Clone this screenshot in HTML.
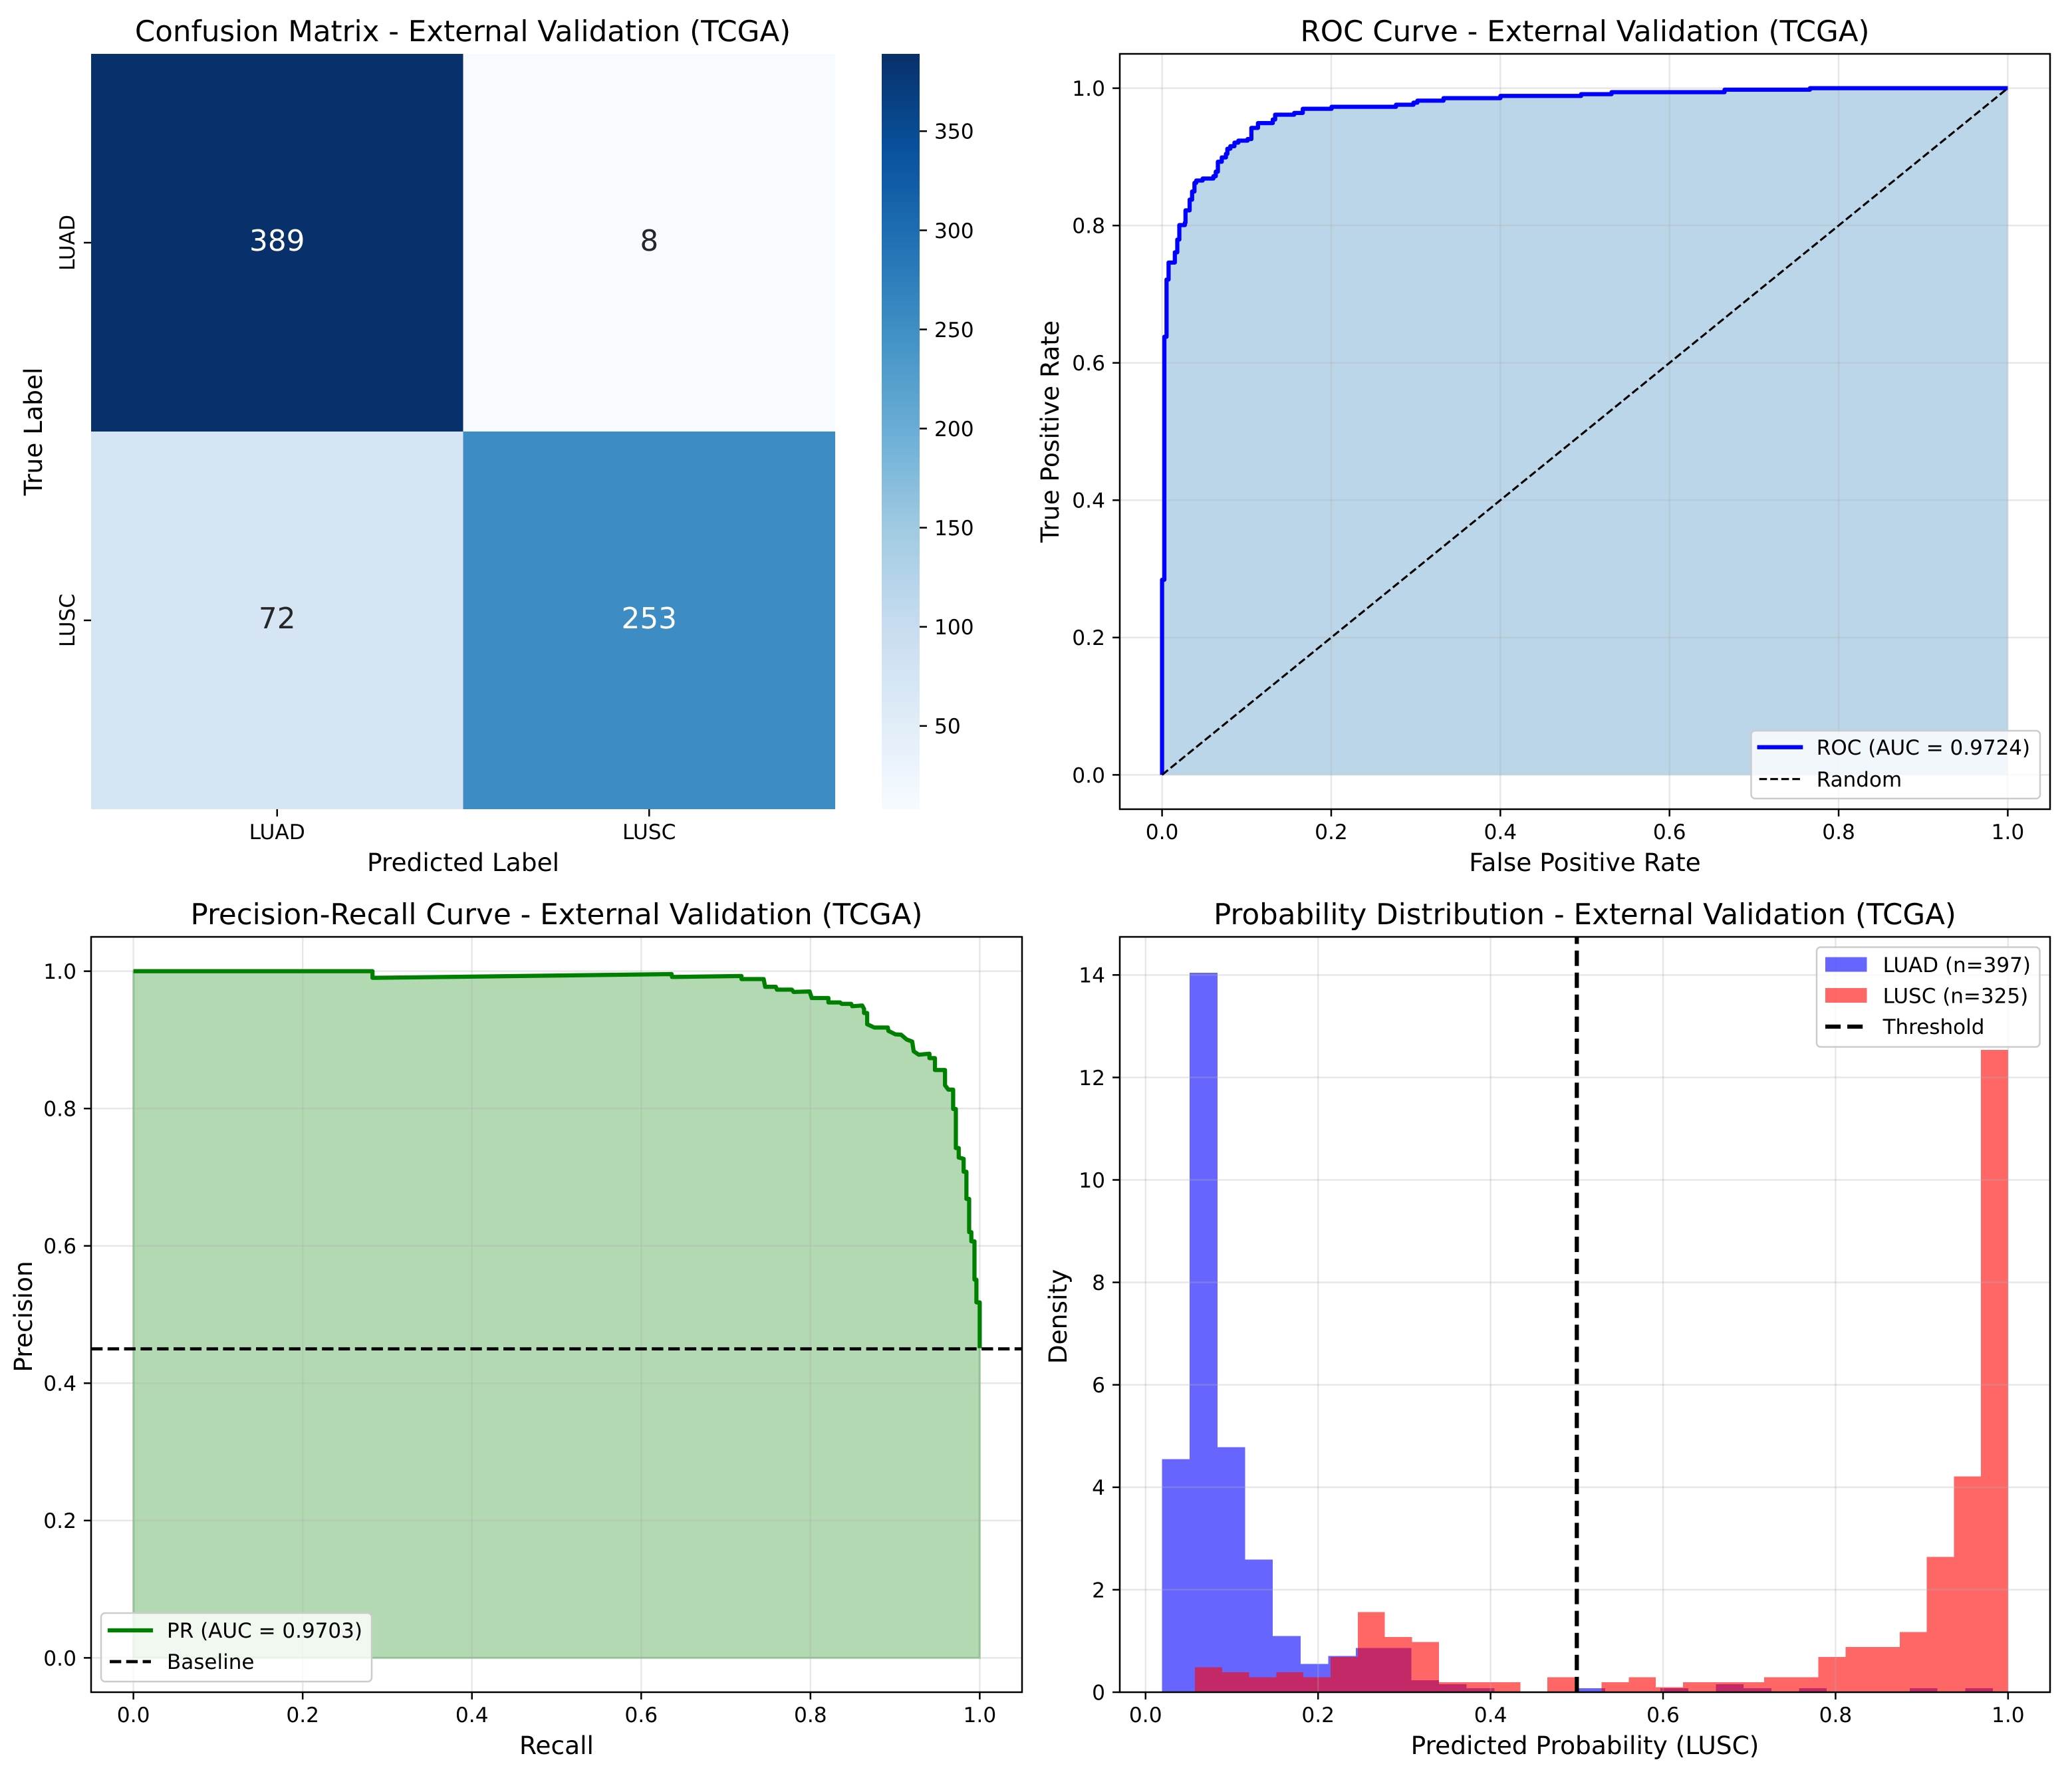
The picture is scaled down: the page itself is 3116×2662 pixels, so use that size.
<!DOCTYPE html>
<html lang="en">
<head>
<meta charset="utf-8">
<title>External Validation (TCGA)</title>
<style>
html,body{margin:0;padding:0;background:#fff;}
svg{display:block;font-family:"DejaVu Sans","Liberation Sans",sans-serif;text-rendering:geometricPrecision;}
.title{font-size:43.55px;text-anchor:middle;}
.label{font-size:37.5px;text-anchor:middle;}
.legend{font-size:31px;}
</style>
</head>
<body>
<svg id="fig" xmlns="http://www.w3.org/2000/svg" width="3116" height="2662" viewBox="0 0 3116 2662">
  <defs>
    <linearGradient id="blues-gradient" x1="0" y1="1" x2="0" y2="0"></linearGradient>
    <clipPath id="clip-roc"><rect x="1684" y="81" width="1399" height="1136"/></clipPath>
    <clipPath id="clip-pr"><rect x="137" y="1409" width="1400" height="1136"/></clipPath>
    <clipPath id="clip-prob"><rect x="1684" y="1409" width="1399" height="1136"/></clipPath>
  </defs>
  <rect width="3116" height="2662" fill="#fff"/>

  <g id="cm"></g>
  <g id="roc"></g>
  <g id="pr"></g>
  <g id="prob"></g>

  <text class="title" x="696" y="62">Confusion Matrix - External Validation (TCGA)</text>
  <text class="label" x="696.5" y="1310">Predicted Label</text>
  <text class="label" transform="translate(63 649) rotate(-90)">True Label</text>

  <text class="title" x="2383.5" y="62">ROC Curve - External Validation (TCGA)</text>
  <text class="label" x="2383.5" y="1310">False Positive Rate</text>
  <text class="label" transform="translate(1592 649) rotate(-90)">True Positive Rate</text>

  <text class="title" x="837" y="1390">Precision-Recall Curve - External Validation (TCGA)</text>
  <text class="label" x="837" y="2638">Recall</text>
  <text class="label" transform="translate(48 1980) rotate(-90)">Precision</text>

  <text class="title" x="2383.5" y="1390">Probability Distribution - External Validation (TCGA)</text>
  <text class="label" x="2383.5" y="2638">Predicted Probability (LUSC)</text>
  <text class="label" transform="translate(1604 1980) rotate(-90)">Density</text>

  <g>
    <rect x="2633.5" y="1099" width="434.5" height="102" rx="6" fill="#fff" fill-opacity="0.8" stroke="#cccccc" stroke-width="2.5"/>
    <line x1="2645.7" x2="2708.2" y1="1123.7" y2="1123.7" stroke="#0000ff" stroke-width="6.25" stroke-linecap="square"/>
    <text class="legend" x="2731.8" y="1135">ROC (AUC = 0.9724)</text>
    <line x1="2645.7" x2="2708.2" y1="1171.7" y2="1171.7" stroke="#000" stroke-width="3.125" stroke-dasharray="11.56 5"/>
    <text class="legend" x="2731.8" y="1183">Random</text>
  </g>
  <g>
    <rect x="152" y="2426" width="407" height="103" rx="6" fill="#fff" fill-opacity="0.8" stroke="#cccccc" stroke-width="2.5"/>
    <line x1="165" x2="227" y1="2452" y2="2452" stroke="#008000" stroke-width="6.25" stroke-linecap="square"/>
    <text class="legend" x="251" y="2463">PR (AUC = 0.9703)</text>
    <line x1="165" x2="227" y1="2499" y2="2499" stroke="#000" stroke-width="4.69" stroke-dasharray="17.3 7.5"/>
    <text class="legend" x="251" y="2510">Baseline</text>
  </g>
  <g>
    <rect x="2732" y="1424.5" width="335.5" height="150" rx="6" fill="#fff" fill-opacity="0.8" stroke="#cccccc" stroke-width="2.5"/>
    <rect x="2745" y="1439.5" width="62.5" height="22" fill="#0000ff" fill-opacity="0.6"/>
    <text class="legend" x="2831.6" y="1462">LUAD (n=397)</text>
    <rect x="2745" y="1486" width="62.5" height="22" fill="#ff0000" fill-opacity="0.6"/>
    <text class="legend" x="2831.6" y="1508.5">LUSC (n=325)</text>
    <line x1="2745" x2="2807.5" y1="1544" y2="1544" stroke="#000" stroke-width="6.25" stroke-dasharray="23.1 10"/>
    <text class="legend" x="2831.6" y="1555">Threshold</text>
  </g>
</svg>

<script>
/* ---------- confusion matrix data ---------- */
const cmClasses = ['LUAD', 'LUSC'];
const cmRow0 = [389, 8];
const cmRow1 = [72, 253];
const cbTicks = [50, 100, 150, 200, 250, 300, 350];
const bluesStops = ['#f7fbff', '#deebf7', '#c6dbef', '#9ecae1', '#6baed6', '#4292c6', '#2171b5', '#08519c', '#08306b'];

/* ---------- ROC data ---------- */
const rocFpr = [0, 0, 0.0027, 0.0053, 0.0077, 0.0151, 0.018, 0.0204, 0.027, 0.0277, 0.0326, 0.0355, 0.0383, 0.0404, 0.048, 0.0607, 0.0635, 0.066, 0.0706, 0.0755, 0.0772, 0.0807, 0.0856, 0.0902, 0.1011, 0.1056, 0.1134, 0.1309, 0.1337, 0.1562, 0.1664, 0.2004, 0.2766, 0.2973, 0.3019, 0.3328, 0.4, 0.4955, 0.5315, 0.6651, 0.7661, 1];
const rocTpr = [0, 0.2841, 0.638, 0.7213, 0.7461, 0.761, 0.7795, 0.8006, 0.8043, 0.8221, 0.8377, 0.8495, 0.8621, 0.8655, 0.8684, 0.8718, 0.8785, 0.8929, 0.8992, 0.9044, 0.9118, 0.9155, 0.9207, 0.9236, 0.9259, 0.9422, 0.9492, 0.9544, 0.9614, 0.964, 0.97, 0.9729, 0.9759, 0.9789, 0.9818, 0.9855, 0.9887, 0.9913, 0.9942, 0.9978, 1, 1];
const unitTicks = [0, 0.2, 0.4, 0.6, 0.8, 1];
const unitTickLabels = ['0.0', '0.2', '0.4', '0.6', '0.8', '1.0'];

/* ---------- precision-recall data ---------- */
const prRecall = [0, 0.2825, 0.2825, 0.6359, 0.6365, 0.7185, 0.7185, 0.7447, 0.7465, 0.7591, 0.7604, 0.778, 0.78, 0.799, 0.8015, 0.8212, 0.8212, 0.835, 0.8369, 0.8481, 0.8494, 0.8612, 0.8633, 0.8633, 0.867, 0.867, 0.8756, 0.8914, 0.8921, 0.9005, 0.9071, 0.9136, 0.9202, 0.922, 0.928, 0.9406, 0.9406, 0.9471, 0.9471, 0.959, 0.959, 0.9629, 0.9686, 0.9686, 0.9718, 0.9718, 0.9752, 0.9752, 0.981, 0.981, 0.9843, 0.9843, 0.9875, 0.9875, 0.9901, 0.9901, 0.9938, 0.9938, 0.9961, 0.9961, 1, 1];
const prPrecision = [1, 1, 0.9903, 0.9958, 0.9916, 0.993, 0.9885, 0.9885, 0.9772, 0.9772, 0.9732, 0.9732, 0.9698, 0.9705, 0.9609, 0.9609, 0.9545, 0.9545, 0.9525, 0.9525, 0.949, 0.95, 0.9451, 0.9391, 0.9391, 0.9228, 0.9179, 0.9179, 0.913, 0.908, 0.9075, 0.9006, 0.8976, 0.8833, 0.8784, 0.8798, 0.8734, 0.8734, 0.8561, 0.8561, 0.8339, 0.8275, 0.8275, 0.7993, 0.7993, 0.7425, 0.7425, 0.7287, 0.7267, 0.7079, 0.7079, 0.6684, 0.6684, 0.62, 0.62, 0.6066, 0.6066, 0.5508, 0.5508, 0.5177, 0.5177, 0.451];
const prBaseline = [0.45];

/* ---------- probability histogram data ---------- */
const luadCounts = [58, 179, 61, 33, 14, 7, 9, 11, 11, 3, 2, 1, 0, 0, 0, 1, 0, 0, 1, 0, 2, 1, 0, 1, 0, 0, 0, 1, 0, 1];
const luscCounts = [5, 4, 3, 4, 3, 7, 16, 11, 10, 2, 2, 2, 0, 3, 0, 2, 3, 1, 2, 2, 2, 3, 3, 7, 9, 9, 12, 27, 43, 128];
const luadRange = [0.0191, 0.9824];
const luscRange = [0.0574, 1];
const densityTicks = [0, 2, 4, 6, 8, 10, 12, 14];
const probThreshold = [0.5];

/* ---------- helpers ---------- */
const NS = 'http://www.w3.org/2000/svg';
function mk(tag, attrs, parent) {
  const e = document.createElementNS(NS, tag);
  for (const k in attrs) e.setAttribute(k, attrs[k]);
  parent.appendChild(e);
  return e;
}
const GRID = {stroke: '#b0b0b0', 'stroke-opacity': 0.3, 'stroke-width': 2.5};
const TICK = {stroke: '#000', 'stroke-width': 2.5};
const TICK_FONT = 31.25;
const TICK_LEN = 10.9;
function xTickAt(parent, x, bottom, text) {
  const t = mk('line', Object.assign({x1: x, x2: x, y1: bottom, y2: bottom + TICK_LEN}, TICK), parent);
  
  
  const l = mk('text', {x: x, y: bottom + 45, 'text-anchor': 'middle', 'font-size': TICK_FONT}, parent);
  l.textContent = text;
  
  
}
function yTickAt(parent, y, left, text) {
  const t = mk('line', Object.assign({x1: left - TICK_LEN, x2: left, y1: y, y2: y}, TICK), parent);
  
  
  const l = mk('text', {x: left - 22, y: y + 11.4, 'text-anchor': 'end', 'font-size': TICK_FONT}, parent);
  l.textContent = text;
  
  
}
function gridV(parent, x, top, bottom) {
  const g = mk('line', Object.assign({x1: x, x2: x, y1: top, y2: bottom}, GRID), parent);
  
  
}
function gridH(parent, y, left, right) {
  const g = mk('line', Object.assign({x1: left, x2: right, y1: y, y2: y}, GRID), parent);
  
  
}
function frame(parent, left, top, right, bottom) {
  const f = mk('rect', {x: left, y: top, width: right - left, height: bottom - top, fill: 'none', stroke: '#000', 'stroke-width': 2.5}, parent);
  
  
}
function hexToRgb(h) {
  return [parseInt(h.slice(1, 3), 16), parseInt(h.slice(3, 5), 16), parseInt(h.slice(5, 7), 16)];
}
function bluesColor(t) {
  const c = Math.max(0, Math.min(1, t)) * (bluesStops.length - 1);
  const i = Math.min(bluesStops.length - 2, Math.floor(c));
  const f = c - i;
  const a = hexToRgb(bluesStops[i]);
  const b = hexToRgb(bluesStops[i + 1]);
  return 'rgb(' + a.map((v, k) => Math.round(v + (b[k] - v) * f)).join(',') + ')';
}

/* ---------- confusion matrix ---------- */
(function () {
  const root = document.getElementById('cm');
  const L = 137, R = 1256, T = 81, B = 1217;
  const matrix = [cmRow0, cmRow1];
  const all = cmRow0.concat(cmRow1);
  const vMin = Math.min.apply(null, all);
  const vMax = Math.max.apply(null, all);
  const xCell = i => L + (R - L) * i / cmClasses.length;
  const yCell = i => T + (B - T) * i / cmClasses.length;
  const norm = v => (v - vMin) / (vMax - vMin);
  matrix.forEach((row, r) => row.forEach((v, c) => {
    const cell = mk('rect', {x: xCell(c), y: yCell(r), width: xCell(c + 1) - xCell(c), height: yCell(r + 1) - yCell(r), fill: bluesColor(norm(v)), 'shape-rendering': 'crispEdges'}, root);
    
    
    const tx = mk('text', {x: (xCell(c) + xCell(c + 1)) / 2, y: (yCell(r) + yCell(r + 1)) / 2 + 12, 'text-anchor': 'middle', 'font-size': 43.75, fill: norm(v) > 0.5 ? '#ffffff' : '#262626'}, root);
    tx.textContent = String(v);
    
    
  }));
  cmClasses.forEach((name, i) => {
    xTickAt(root, (xCell(i) + xCell(i + 1)) / 2, B, name);
    const y = (yCell(i) + yCell(i + 1)) / 2;
    const t = mk('line', Object.assign({x1: L - TICK_LEN, x2: L, y1: y, y2: y}, TICK), root);
    
    
    const l = mk('text', {transform: 'translate(112 ' + y + ') rotate(-90)', 'text-anchor': 'middle', 'font-size': TICK_FONT}, root);
    l.textContent = name;
    
    
  });
  const grad = document.getElementById('blues-gradient');
  bluesStops.forEach((col, i) => {
    mk('stop', {offset: i / (bluesStops.length - 1), 'stop-color': col}, grad);
  });
  const CL = 1326, CR = 1383;
  const cbY = v => B - (v - vMin) / (vMax - vMin) * (B - T);
  const bar = mk('rect', {x: CL, y: T, width: CR - CL, height: B - T, fill: 'url(#blues-gradient)'}, root);
  
  
  cbTicks.forEach(v => {
    const y = cbY(v);
    const t = mk('line', Object.assign({x1: CR, x2: CR + 11, y1: y, y2: y}, TICK), root);
    
    
    const l = mk('text', {x: CR + 22, y: y + 11.4, 'font-size': TICK_FONT}, root);
    l.textContent = String(v);
    
    
  });
})();

/* ---------- ROC ---------- */
(function () {
  const root = document.getElementById('roc');
  const L = 1684, R = 3083, T = 81, B = 1217;
  const xS = v => L + (v + 0.05) / 1.1 * (R - L);
  const yS = v => B - (v + 0.05) / 1.1 * (B - T);
  let d = 'M' + xS(rocFpr[0]) + ' ' + yS(rocTpr[0]);
  for (let i = 1; i < rocFpr.length; i++) {
    d += 'L' + xS(rocFpr[i]) + ' ' + yS(rocTpr[i - 1]) + 'L' + xS(rocFpr[i]) + ' ' + yS(rocTpr[i]);
  }
  const area = mk('path', {d: d + 'L' + xS(rocFpr[rocFpr.length - 1]) + ' ' + yS(0) + 'L' + xS(rocFpr[0]) + ' ' + yS(0) + 'Z', fill: '#1f77b4', 'fill-opacity': 0.3}, root);
  
  
  unitTicks.forEach(v => { gridV(root, xS(v), T, B); gridH(root, yS(v), L, R); });
  const curve = mk('path', {d: d, fill: 'none', stroke: '#0000ff', 'stroke-width': 6.25, 'stroke-linejoin': 'round', 'clip-path': 'url(#clip-roc)'}, root);
  
  
  const diag = mk('line', {x1: xS(0), y1: yS(0), x2: xS(1), y2: yS(1), stroke: '#000', 'stroke-width': 3.125, 'stroke-dasharray': '11.56 5'}, root);
  
  
  unitTicks.forEach((v, i) => {
    xTickAt(root, xS(v), B, unitTickLabels[i]);
    yTickAt(root, yS(v), L, unitTickLabels[i]);
  });
  frame(root, L, T, R, B);
})();

/* ---------- precision-recall ---------- */
(function () {
  const root = document.getElementById('pr');
  const L = 137, R = 1537, T = 1409, B = 2545;
  const xS = v => L + (v + 0.05) / 1.1 * (R - L);
  const yS = v => B - (v + 0.05) / 1.1 * (B - T);
  let d = '';
  prRecall.forEach((r, i) => { d += (i ? 'L' : 'M') + xS(r) + ' ' + yS(prPrecision[i]); });
  const area = mk('path', {d: d + 'L' + xS(prRecall[prRecall.length - 1]) + ' ' + yS(0) + 'L' + xS(prRecall[0]) + ' ' + yS(0) + 'Z', fill: '#008000', 'fill-opacity': 0.3, stroke: '#008000', 'stroke-opacity': 0.3, 'stroke-width': 3.1}, root);
  
  
  unitTicks.forEach(v => { gridV(root, xS(v), T, B); gridH(root, yS(v), L, R); });
  const curve = mk('path', {d: d, fill: 'none', stroke: '#008000', 'stroke-width': 6.25, 'stroke-linejoin': 'round', 'clip-path': 'url(#clip-pr)'}, root);
  
  
  const base = mk('line', {x1: L, x2: R, y1: yS(prBaseline[0]), y2: yS(prBaseline[0]), stroke: '#000', 'stroke-width': 4.69, 'stroke-dasharray': '17.3 7.5'}, root);
  
  
  unitTicks.forEach((v, i) => {
    xTickAt(root, xS(v), B, unitTickLabels[i]);
    yTickAt(root, yS(v), L, unitTickLabels[i]);
  });
  frame(root, L, T, R, B);
})();

/* ---------- probability distribution ---------- */
(function () {
  const root = document.getElementById('prob');
  const L = 1684, R = 3083, T = 1409, B = 2545;
  const xMin = -0.0299, xMax = 1.0487;
  const sum = a => a.reduce((s, v) => s + v, 0);
  const luadW = (luadRange[1] - luadRange[0]) / luadCounts.length;
  const luscW = (luscRange[1] - luscRange[0]) / luscCounts.length;
  const luadN = sum(luadCounts);
  const luscN = sum(luscCounts);
  const luadD = luadCounts.map(c => c / (luadN * luadW));
  const luscD = luscCounts.map(c => c / (luscN * luscW));
  const yMax = Math.max.apply(null, luadD.concat(luscD)) * 1.05;
  const xS = v => L + (v - xMin) / (xMax - xMin) * (R - L);
  const yS = v => B - v / yMax * (B - T);
  luadD.forEach((v, i) => {
    if (!v) return;
    const x0 = xS(luadRange[0] + i * luadW), x1 = xS(luadRange[0] + (i + 1) * luadW);
    const b = mk('rect', {x: x0, y: yS(v), width: x1 - x0, height: yS(0) - yS(v), fill: '#0000ff', 'fill-opacity': 0.6, 'shape-rendering': 'crispEdges'}, root);
    
    
  });
  luscD.forEach((v, i) => {
    if (!v) return;
    const x0 = xS(luscRange[0] + i * luscW), x1 = xS(luscRange[0] + (i + 1) * luscW);
    const b = mk('rect', {x: x0, y: yS(v), width: x1 - x0, height: yS(0) - yS(v), fill: '#ff0000', 'fill-opacity': 0.6, 'shape-rendering': 'crispEdges'}, root);
    
    
  });
  unitTicks.forEach(v => gridV(root, xS(v), T, B));
  densityTicks.forEach(v => gridH(root, yS(v), L, R));
  const th = mk('line', {x1: xS(probThreshold[0]), x2: xS(probThreshold[0]), y1: B, y2: T, stroke: '#000', 'stroke-width': 6.25, 'stroke-dasharray': '23.1 10'}, root);
  
  
  unitTicks.forEach((v, i) => xTickAt(root, xS(v), B, unitTickLabels[i]));
  densityTicks.forEach(v => yTickAt(root, yS(v), L, String(v)));
  frame(root, L, T, R, B);
})();
</script>
</body>
</html>
